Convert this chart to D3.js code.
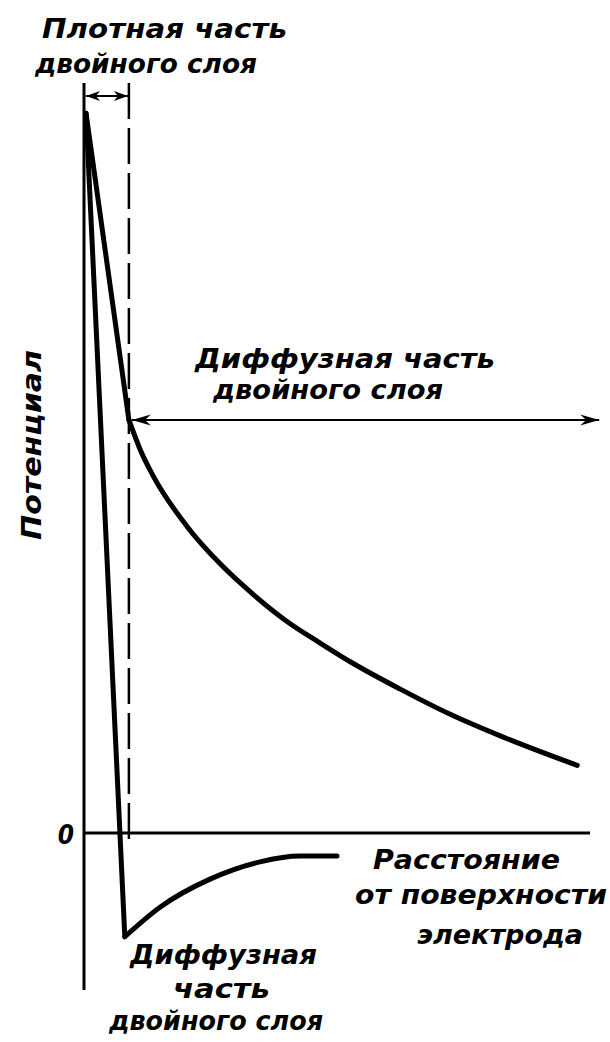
<!DOCTYPE html>
<html>
<head>
<meta charset="utf-8">
<script src="https://cdn.jsdelivr.net/npm/d3@7"></script>
<style>
  body { margin: 0; background: #fff; }
  text { font-family: 'DejaVu Sans Condensed', 'DejaVu Sans', sans-serif; font-style: oblique; font-weight: bold; fill: #000; }
</style>
</head>
<body>
<svg id="chart" width="610" height="1042"></svg>
<script>
// distance from the electrode surface (arb. units) vs potential (fraction of surface value)
const denseX = [0.04, 0.88];
const denseY = [1.0, 0.574];
const diffuseX = [0.88, 1.10, 1.35, 2.02, 2.67, 3.31, 3.98, 4.63, 5.22, 6.20, 7.18, 8.16, 9.67];
const diffuseY = [0.574, 0.533, 0.497, 0.426, 0.374, 0.332, 0.294, 0.264, 0.238, 0.200, 0.165, 0.135, 0.094];
// second case: potential overshoots past zero
const reversalX = [0.04, 0.80];
const reversalY = [1.0, -0.144];
const reversalDiffuseX = [0.80, 1.49, 2.47, 3.45, 4.24, 4.96];
const reversalDiffuseY = [-0.144, -0.103, -0.064, -0.040, -0.032, -0.032];
const planeX = 0.88; // outer edge of the compact layer

const yTitle = 'Потенциал';
const xTitle = ['Расстояние', 'от поверхности', 'электрода'];
const denseLabel = ['Плотная часть', 'двойного слоя'];
const diffuseLabel = ['Диффузная часть', 'двойного слоя'];
const reversalLabel = ['Диффузная', 'часть', 'двойного слоя'];
const zeroLabel = '0';

const svg = d3.select('#chart');

const x = d3.scaleLinear().domain([0, 9.92]).range([84, 590]);
const y = d3.scaleLinear().domain([-0.218, 1.042]).range([990, 83]);

const zip = (xs, ys) => xs.map((v, i) => [v, ys[i]]);

const defs = svg.append('defs');
defs.append('marker')
  .attr('id', 'head')
  .attr('viewBox', '-20 -7 22 14')
  .attr('refX', 0)
  .attr('refY', 0)
  .attr('markerWidth', 22)
  .attr('markerHeight', 14)
  .attr('markerUnits', 'userSpaceOnUse')
  .attr('orient', 'auto-start-reverse')
  .append('path')
  .attr('d', 'M0,0 L-19,-5.5 L-13,0 L-19,5.5 Z')
  .attr('fill', '#000');

defs.append('marker')
  .attr('id', 'headSmall')
  .attr('viewBox', '-15 -6 17 12')
  .attr('refX', 0)
  .attr('refY', 0)
  .attr('markerWidth', 17)
  .attr('markerHeight', 12)
  .attr('markerUnits', 'userSpaceOnUse')
  .attr('orient', 'auto-start-reverse')
  .append('path')
  .attr('d', 'M0,0 L-14,-5 L-10,0 L-14,5 Z')
  .attr('fill', '#000');

// axes: plain lines through the origin, no ticks
svg.append('line')
  .attr('x1', x(0)).attr('x2', x(0))
  .attr('y1', y(1.042)).attr('y2', y(-0.218))
  .attr('stroke', '#000').attr('stroke-width', 3);

svg.append('line')
  .attr('x1', x(0)).attr('x2', x(9.92))
  .attr('y1', y(0)).attr('y2', y(0))
  .attr('stroke', '#000').attr('stroke-width', 3);

// boundary of the compact layer
svg.append('line')
  .attr('x1', x(planeX)).attr('x2', x(planeX))
  .attr('y1', y(1.042)).attr('y2', y(-0.01))
  .attr('stroke', '#000').attr('stroke-width', 2.5)
  .attr('stroke-dasharray', '36,9');

const straight = d3.line().x(d => x(d[0])).y(d => y(d[1]));
const smooth = d3.line().x(d => x(d[0])).y(d => y(d[1])).curve(d3.curveMonotoneX);

const curves = [
  straight(zip(denseX, denseY)),
  smooth(zip(diffuseX, diffuseY)),
  straight(zip(reversalX, reversalY)),
  smooth(zip(reversalDiffuseX, reversalDiffuseY))
];

svg.selectAll('path.curve')
  .data(curves)
  .enter()
  .append('path')
  .attr('class', 'curve')
  .attr('d', d => d)
  .attr('fill', 'none')
  .attr('stroke', '#000')
  .attr('stroke-width', 5)
  .attr('stroke-linecap', 'round')
  .attr('stroke-linejoin', 'round');

// width of the compact layer
svg.append('line')
  .attr('x1', x(0) + 2).attr('x2', x(planeX) - 1)
  .attr('y1', y(1.024)).attr('y2', y(1.024))
  .attr('stroke', '#000').attr('stroke-width', 2)
  .attr('marker-start', 'url(#headSmall)')
  .attr('marker-end', 'url(#headSmall)');

// extent of the diffuse layer
svg.append('line')
  .attr('x1', x(planeX) + 3).attr('x2', x(10.1))
  .attr('y1', y(diffuseY[0])).attr('y2', y(diffuseY[0]))
  .attr('stroke', '#000').attr('stroke-width', 2)
  .attr('marker-start', 'url(#head)')
  .attr('marker-end', 'url(#head)');

function block(lines, spots) {
  lines.forEach((t, i) => {
    const p = spots[i];
    svg.append('text')
      .attr('x', p[0])
      .attr('y', p[1])
      .attr('font-size', 26)
      .attr('textLength', p[2])
      .attr('lengthAdjust', 'spacingAndGlyphs')
      .text(t);
  });
}

block(denseLabel, [[42, 38, 245], [35, 73, 222]]);
block(diffuseLabel, [[195, 368, 300], [213, 399, 230]]);
block(reversalLabel, [[130, 964, 187], [173, 998, 97], [109, 1030, 214]]);
block(xTitle, [[373, 869, 187], [355, 904, 252], [417, 944, 166]]);

svg.append('text')
  .attr('transform', 'translate(41,445) rotate(-90)')
  .attr('text-anchor', 'middle')
  .attr('font-size', 26)
  .attr('textLength', 190)
  .attr('lengthAdjust', 'spacingAndGlyphs')
  .text(yTitle);

svg.append('text')
  .attr('x', x(0) - 18)
  .attr('y', y(0) + 11)
  .attr('text-anchor', 'middle')
  .attr('font-size', 26)
  .text(zeroLabel);
</script>
</body>
</html>
